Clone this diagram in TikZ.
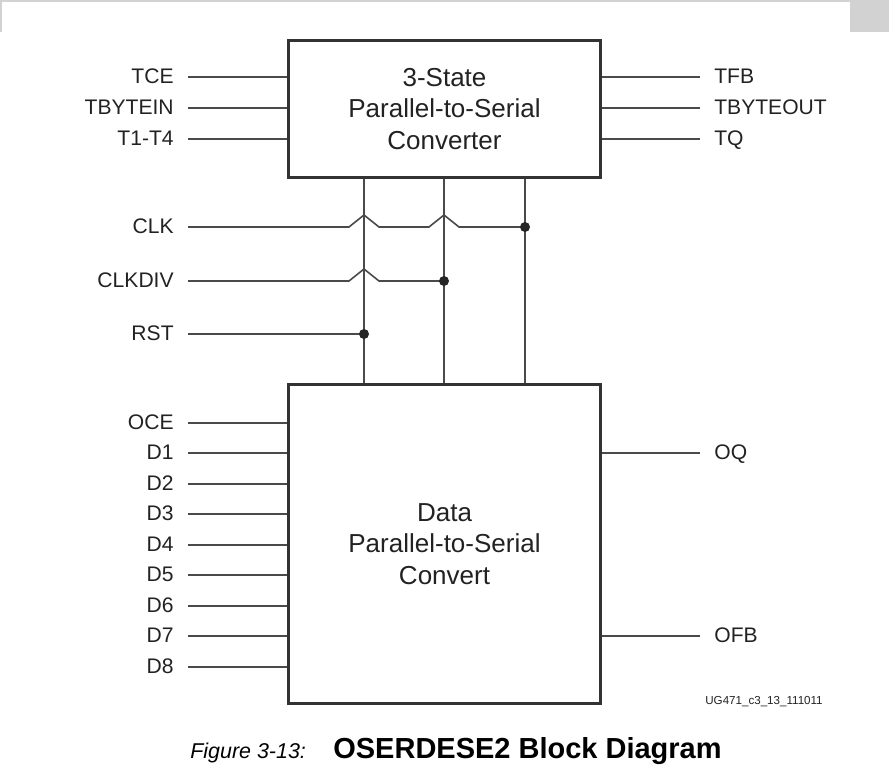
\documentclass[tikz,border=0pt]{standalone}
\usepackage{fontspec}
\setmainfont{Liberation Sans}
\usetikzlibrary{calc}
\definecolor{boxline}{HTML}{333333}
\definecolor{wire}{HTML}{4A4A4A}
\definecolor{ink}{HTML}{222222}

\begin{document}
\begin{tikzpicture}[x=0.02cm, y=-0.02cm,
    blk/.style={draw=boxline, line width=1.7pt, minimum width=6.26cm, inner sep=0pt,
        align=center, text=ink, font=\fontsize{14.8}{17.9}\selectfont},
    pin/.style={text=ink, font=\fontsize{12}{14}\selectfont, inner xsep=0.28cm,
        inner ysep=0pt, text height=0.72em, text depth=0pt},
    inpin/.style={pin, anchor=east},
    outpin/.style={pin, anchor=west},
    sig/.style={draw=wire, line width=0.9pt},
    dot/.style={circle, fill=black!85, inner sep=0pt, minimum size=0.2cm}]
\useasboundingbox (0,0) rectangle (889,774);
% screenshot edge
\fill[gray!35] (0,0) rectangle (889,32);
\fill[white] (2,2) rectangle (850,32);

% the two converters
\node[blk, minimum height=2.76cm] (tsc) at (444.5,109) {3-State\\Parallel-to-Serial\\Converter};
\node[blk, minimum height=6.4cm] (dsc) at (444.5,544) {Data\\Parallel-to-Serial\\Convert};

% 3-state side
\foreach \nm/\txt/\yy in {tce/TCE/77, tbytein/TBYTEIN/108, tt/T1-T4/139} {
    \node[inpin] (\nm) at (188,\yy) {\txt};
    \draw[sig] (\nm.east) -- (\nm -| tsc.west);
}
\foreach \nm/\txt/\yy in {tfb/TFB/77, tbyteout/TBYTEOUT/108, tq/TQ/139} {
    \node[outpin] (\nm) at (700,\yy) {\txt};
    \draw[sig] (\nm -| tsc.east) -- (\nm.west);
}

% clocks and reset
\foreach \nm/\txt/\yy in {clk/CLK/227, clkdiv/CLKDIV/281, rst/RST/334}
    \node[inpin] (\nm) at (188,\yy) {\txt};
\coordinate (tap1) at (364,0);
\coordinate (tap2) at (444,0);
\coordinate (tap3) at (525,0);
\foreach \t in {tap1,tap2,tap3}
    \draw[sig] (\t |- tsc.south) -- (\t |- dsc.north);
\draw[sig] (clk.east) -- ($(tap1 |- clk)+(-15,0)$) -- ++(15,-12) -- ++(15,12)
    -- ($(tap2 |- clk)+(-15,0)$) -- ++(15,-12) -- ++(15,12) -- (tap3 |- clk);
\draw[sig] (clkdiv.east) -- ($(tap1 |- clkdiv)+(-15,0)$) -- ++(15,-12) -- ++(15,12)
    -- (tap2 |- clkdiv);
\draw[sig] (rst.east) -- (tap1 |- rst);
\node[dot] at (tap3 |- clk) {};
\node[dot] at (tap2 |- clkdiv) {};
\node[dot] at (tap1 |- rst) {};

% data side
\foreach \nm/\txt/\yy in {oce/OCE/423, d1/D1/453, d2/D2/484, d3/D3/514, d4/D4/545,
        d5/D5/575, d6/D6/606, d7/D7/636, d8/D8/667} {
    \node[inpin] (\nm) at (188,\yy) {\txt};
    \draw[sig] (\nm.east) -- (\nm -| dsc.west);
}
\foreach \nm/\txt/\yy in {oq/OQ/453, ofb/OFB/636} {
    \node[outpin] (\nm) at (700,\yy) {\txt};
    \draw[sig] (\nm -| dsc.east) -- (\nm.west);
}

% caption
\node[anchor=base west, inner sep=0pt, text=ink, font=\fontsize{6.6}{8}\selectfont] (figid) at (705,704) {UG471\_c3\_13\_111011};
\node[anchor=base west, inner sep=0pt, font=\fontsize{12.2}{15}\selectfont\itshape] (fignum) at (190,758) {Figure 3-13:};
\node[anchor=base west, inner sep=0pt, font=\fontsize{16.5}{19}\selectfont\bfseries] (figtitle) at (333,758) {OSERDESE2 Block Diagram};
\end{tikzpicture}
\end{document}
